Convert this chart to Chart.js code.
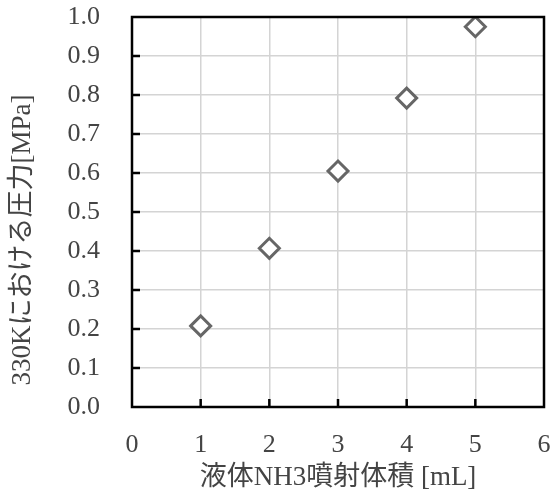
<!DOCTYPE html>
<html>
<head>
<meta charset="utf-8">
<script src="https://cdn.jsdelivr.net/npm/chart.js@4.4.1/dist/chart.umd.min.js"></script>
<style>
  body { margin: 0; background: #fff; }
  #wrap { width: 557px; height: 494px; }
</style>
</head>
<body>
<div id="wrap"><canvas id="chart"></canvas></div>
<script>
// 液体NH3噴射体積 vs 330Kにおける圧力
const volumes = [1, 2, 3, 4, 5]
const pressures = [0.208, 0.407, 0.605, 0.792, 0.975]
const xTitle = '液体NH3噴射体積 [mL]'
const yTitle = '330Kにおける圧力[MPa]'

const serif = '"Liberation Serif", "Noto Sans CJK JP", serif'

const points = volumes.map((v, i) => ({ x: v, y: pressures[i] }))

// frame + inward tick marks on left and bottom, y title a bit below centre
const framePlugin = {
    id: 'frame',
    afterDraw(chart) {
        const ctx = chart.ctx
        const a = chart.chartArea
        const xs = chart.scales.x
        const ys = chart.scales.y
        ctx.save()
        ctx.strokeStyle = '#000'
        ctx.lineWidth = 2.5
        ctx.strokeRect(a.left, a.top, a.right - a.left, a.bottom - a.top)
        ctx.beginPath()
        xs.ticks.forEach(t => {
            if (t.value <= 0 || t.value >= 6) return
            const px = xs.getPixelForValue(t.value)
            ctx.moveTo(px, a.bottom)
            ctx.lineTo(px, a.bottom - 8)
        })
        ys.ticks.forEach(t => {
            if (t.value <= 0 || t.value >= 1) return
            const py = ys.getPixelForValue(t.value)
            ctx.moveTo(a.left, py)
            ctx.lineTo(a.left + 8, py)
        })
        ctx.stroke()

        ctx.translate(ys.left + 17, (a.top + a.bottom) / 2 + 28)
        ctx.rotate(-Math.PI / 2)
        ctx.fillStyle = '#444'
        ctx.font = '27px ' + serif
        ctx.textAlign = 'center'
        ctx.textBaseline = 'middle'
        ctx.fillText(yTitle, 0, 0)
        ctx.restore()
    }
}

const clear = 'rgba(0,0,0,0)'

const config = {
    type: 'scatter',
    data: {
        datasets: [{
            data: points,
            pointStyle: 'rectRot',
            pointRadius: 10,
            pointHoverRadius: 10,
            borderWidth: 3,
            borderColor: '#666',
            backgroundColor: '#fff'
        }]
    },
    options: {
        responsive: true,
        maintainAspectRatio: false,
        animation: false,
        layout: { padding: { top: 17, right: 6, left: 6, bottom: 0 } },
        plugins: {
            legend: { display: false },
            tooltip: { enabled: false }
        },
        scales: {
            x: {
                type: 'linear',
                min: 0, max: 6,
                afterFit: s => { s.height = 87 },
                ticks: { stepSize: 1, color: '#444', padding: 0, font: { family: serif, size: 26 } },
                grid: { color: '#d4d4d4', lineWidth: 1.5, drawTicks: true, tickLength: 23, tickColor: clear },
                border: { display: false },
                title: { display: true, text: xTitle, color: '#444', padding: { top: 0, bottom: 0 }, font: { family: serif, size: 27 } }
            },
            y: {
                min: 0, max: 1,
                afterFit: s => { s.width = 126 },
                ticks: { stepSize: 0.1, color: '#444', padding: 0, font: { family: serif, size: 26 },
                    callback: v => v.toFixed(1) },
                grid: { color: '#d4d4d4', lineWidth: 1.5, drawTicks: true, tickLength: 32, tickColor: clear },
                border: { display: false }
            }
        }
    },
    plugins: [framePlugin]
}

window.onload = function() {
    var ctx = document.getElementById('chart').getContext('2d')
    window.myChart = new Chart(ctx, config)
}
</script>
</body>
</html>
